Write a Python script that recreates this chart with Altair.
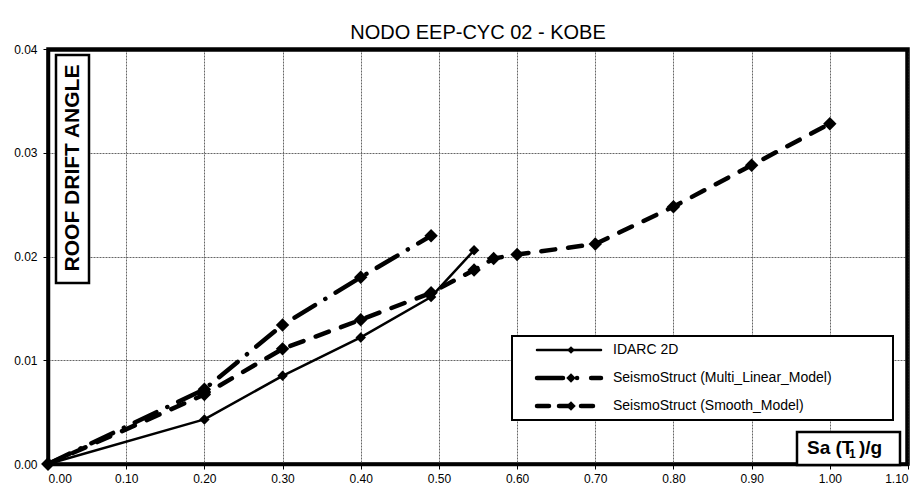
import altair as alt
import pandas as pd

# --- data ---
x_idarc = [0.0, 0.2, 0.3, 0.4, 0.49, 0.545]
y_idarc = [0.0, 0.0043, 0.0085, 0.0122, 0.0161, 0.0206]

x_multi = [0.0, 0.2, 0.3, 0.4, 0.49]
y_multi = [0.0, 0.0072, 0.0134, 0.0180, 0.0220]

x_smooth = [0.0, 0.2, 0.3, 0.4, 0.49, 0.545, 0.57, 0.6, 0.7, 0.8, 0.9, 1.0]
y_smooth = [0.0, 0.0067, 0.0111, 0.0139, 0.0165, 0.0187, 0.0198, 0.0202, 0.0212, 0.0248, 0.0288, 0.0328]

series_names = ["IDARC 2D", "SeismoStruct (Multi_Linear_Model)", "SeismoStruct (Smooth_Model)"]
x_ticks = [round(0.1 * i, 2) for i in range(12)]
y_ticks = [0.0, 0.01, 0.02, 0.03, 0.04]

FONT = "Liberation Sans"
W, H = 860, 415

xs = alt.Scale(domain=[0, 1.1], nice=False)
ys = alt.Scale(domain=[0, 0.04], nice=False)
xaxis = alt.Axis(values=x_ticks, format=".2f", title=None, grid=True, labelPadding=4,
                 domain=True, domainColor="black", domainWidth=3.5)
yaxis = alt.Axis(values=y_ticks, format=".2f", title=None, grid=True, labelPadding=6,
                 domain=True, domainColor="black", domainWidth=3.5)

df_i = pd.DataFrame({"x": x_idarc, "y": y_idarc})
df_m = pd.DataFrame({"x": x_multi, "y": y_multi})
df_s = pd.DataFrame({"x": x_smooth, "y": y_smooth})

def series(df, dash, width, size):
    base = alt.Chart(df).encode(x=alt.X("x:Q", scale=xs, axis=xaxis),
                                y=alt.Y("y:Q", scale=ys, axis=yaxis))
    line_kw = dict(color="black", strokeWidth=width, strokeCap="round", strokeJoin="round")
    if dash:
        line_kw["strokeDash"] = dash
    line = base.mark_line(**line_kw)
    pts = base.mark_point(shape="diamond", filled=True, color="black", size=size, opacity=1)
    return line + pts

dash_multi = [24, 12, 0.1, 12]
dash_smooth = [14, 13]

s_idarc = series(df_i, None, 2.5, 110)
s_multi = series(df_m, dash_multi, 4.5, 180)
s_smooth = series(df_s, dash_smooth, 4.5, 180)

one = pd.DataFrame({"a": [0]})

# top and right frame edges
fw = 3.5
frame = [
    alt.Chart(one).mark_rule(color="black", strokeWidth=fw).encode(
        x=alt.value(-1), x2=alt.value(W + 1), y=alt.value(1)),
    alt.Chart(one).mark_rule(color="black", strokeWidth=fw).encode(
        x=alt.value(W - 1), y=alt.value(0), y2=alt.value(H)),
]

# y label box
ybox = alt.Chart(one).mark_rect(fill="white", stroke="black", strokeWidth=2.5).encode(
    x=alt.value(8), x2=alt.value(41), y=alt.value(6), y2=alt.value(234))
ytext = alt.Chart(one).mark_text(text="ROOF DRIFT ANGLE", angle=270, font=FONT, fontSize=21,
                                 fontWeight="bold", color="black", align="center", baseline="middle").encode(
    x=alt.value(25), y=alt.value(119))

# x label box
xbox = alt.Chart(one).mark_rect(fill="white", stroke="black", strokeWidth=2.5).encode(
    x=alt.value(749), x2=alt.value(852), y=alt.value(383), y2=alt.value(416))
xt1 = alt.Chart(one).mark_text(text="Sa (T", font=FONT, fontSize=19, fontWeight="bold",
                               color="black", align="left", baseline="alphabetic").encode(
    x=alt.value(759), y=alt.value(405))
xt2 = alt.Chart(one).mark_text(text="1", font=FONT, fontSize=12, fontWeight="bold",
                               color="black", align="left", baseline="alphabetic").encode(
    x=alt.value(801), y=alt.value(409))
xt3 = alt.Chart(one).mark_text(text=")/g", font=FONT, fontSize=19, fontWeight="bold",
                               color="black", align="left", baseline="alphabetic").encode(
    x=alt.value(811), y=alt.value(405))

# legend
lbox = alt.Chart(one).mark_rect(fill="white", stroke="black", strokeWidth=2).encode(
    x=alt.value(464), x2=alt.value(845), y=alt.value(287), y2=alt.value(371))
leg_layers = [lbox]
leg_y = [301, 329, 357]
leg_style = [(None, 2.5, 60), ([26, 14, 0.1, 14], 4.5, 90), ([12, 10], 4.5, 90)]
for name, yy, (dash, wdt, sz) in zip(series_names, leg_y, leg_style):
    kw = dict(color="black", strokeWidth=wdt, strokeCap="round")
    if dash:
        kw["strokeDash"] = dash
    leg_layers.append(alt.Chart(one).mark_rule(**kw).encode(
        x=alt.value(489), x2=alt.value(553), y=alt.value(yy)))
    leg_layers.append(alt.Chart(one).mark_point(shape="diamond", filled=True, color="black",
                                                size=sz, opacity=1).encode(
        x=alt.value(523), y=alt.value(yy)))
    leg_layers.append(alt.Chart(one).mark_text(text=name, font=FONT, fontSize=14, color="black",
                                               align="left", baseline="middle").encode(
        x=alt.value(565), y=alt.value(yy)))

chart = alt.layer(s_smooth, s_multi, s_idarc, ybox, ytext, xbox, xt1, xt2, xt3, *leg_layers, *frame).properties(
    width=W, height=H,
    background="white",
    title=alt.TitleParams("NODO EEP-CYC 02 - KOBE", font=FONT, fontSize=20, fontWeight="normal",
                          color="black", offset=0),
    autosize=alt.AutoSizeParams(type="none"),
    padding={"left": 40, "top": 41, "right": 5, "bottom": 20},
).configure_view(stroke="black", strokeWidth=3.5).configure_axis(
    labelFont=FONT, labelFontSize=12, labelColor="black",
    ticks=True, tickColor="black", tickSize=5,
    gridColor="#666666", gridDash=[2, 1], gridWidth=1,
)

chart.save("out.html", embed_options={"renderer": "svg", "actions": False})
